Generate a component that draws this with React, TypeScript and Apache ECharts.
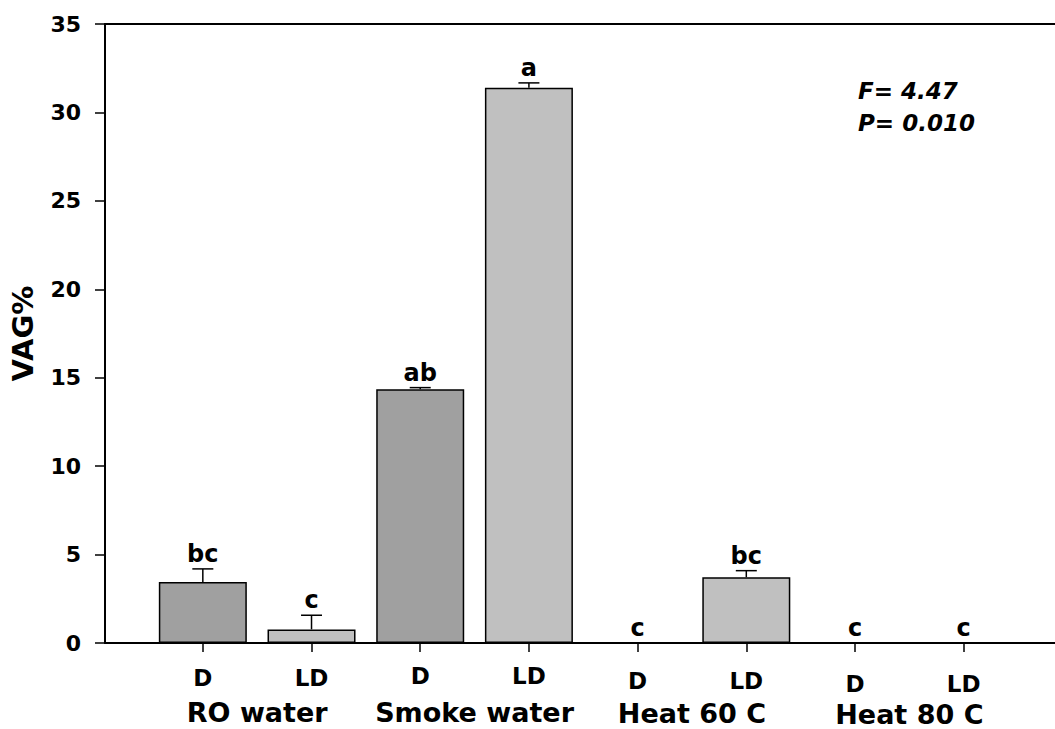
import React, { useEffect, useRef } from "react";
import * as echarts from "echarts";

const positions = [1, 2, 3, 4, 5, 6, 7, 8];
const subLabels = ["D", "LD", "D", "LD", "D", "LD", "D", "LD"];
const groupCenters = [1.5, 3.5, 5.5, 7.5];
const groupLabels = ["RO water", "Smoke water", "Heat 60 C", "Heat 80 C"];
const values = [3.45, 0.77, 14.35, 31.4, 0, 3.72, 0, 0];
const errors = [0.74, 0.8, 0.09, 0.27, 0, 0.37, 0, 0];
const letters = ["bc", "c", "ab", "a", "c", "bc", "c", "c"];
const yTicks = [0, 5, 10, 15, 20, 25, 30, 35];
const statLines = ["F= 4.47", "P= 0.010"];

const FONT = '"DejaVu Sans", Verdana, sans-serif';
const D_COLOR = "#a0a0a0";
const LD_COLOR = "#c0c0c0";

// small vertical drifts of the tick labels seen in the reference
const subOffsets = [2, 2, 0, 0, 5, 5, 8, 8];
const groupOffsets = [0, 0, 1, 2];

export default function App() {
  const ref = useRef<HTMLDivElement>(null);
  useEffect(() => {
    if (!ref.current) return;
    const chart = echarts.init(ref.current, null, { renderer: "svg" });
    const xMin = 0.1;
    const xMax = 8.84;
    const subRich: any = {};
    subOffsets.forEach((o, i) => {
      subRich["s" + i] = {
        padding: [o, 0, 0, 0],
        color: "#000",
        fontFamily: FONT,
        fontWeight: "bold",
        fontSize: 23,
      };
    });
    const groupRich: any = {};
    groupOffsets.forEach((o, i) => {
      groupRich["g" + i] = {
        padding: [o, 0, 0, 0],
        color: "#000",
        fontFamily: FONT,
        fontWeight: "bold",
        fontSize: 27,
      };
    });
    const option: any = {
      animation: false,
      backgroundColor: "#fff",
      grid: { left: 102, right: 0, top: 24, bottom: 86, containLabel: false },
      xAxis: [
        {
          type: "value",
          min: xMin,
          max: xMax,
          position: "bottom",
          axisLine: { show: true, onZero: false, lineStyle: { color: "#000", width: 2 } },
          axisTick: { show: true, customValues: positions, length: 9, lineStyle: { color: "#000", width: 1.5 } },
          axisLabel: {
            show: true,
            customValues: positions,
            margin: 21,
            formatter: (v: number) => {
              const i = positions.indexOf(Math.round(v));
              return i < 0 ? "" : `{s${i}|${subLabels[i]}}`;
            },
            rich: subRich,
          },
          splitLine: { show: false },
        },
        {
          type: "value",
          min: xMin,
          max: xMax,
          position: "bottom",
          axisLine: { show: false },
          axisTick: { show: false },
          axisLabel: {
            show: true,
            customValues: groupCenters,
            margin: 56,
            formatter: (v: number) => {
              const i = groupCenters.indexOf(v);
              return i < 0 ? "" : `{g${i}|${groupLabels[i]}}`;
            },
            rich: groupRich,
          },
          splitLine: { show: false },
        },
        {
          type: "value",
          min: xMin,
          max: xMax,
          position: "top",
          axisLine: { show: true, onZero: false, lineStyle: { color: "#000", width: 2 } },
          axisTick: { show: false },
          axisLabel: { show: false },
          splitLine: { show: false },
        },
      ],
      yAxis: {
        type: "value",
        min: 0,
        max: 35,
        interval: 5,
        name: "VAG%",
        nameLocation: "middle",
        nameGap: 68,
        nameTextStyle: { color: "#000", fontFamily: FONT, fontWeight: "bold", fontSize: 29 },
        axisLine: { show: true, lineStyle: { color: "#000", width: 2 } },
        axisTick: { show: true, length: 10, lineStyle: { color: "#000", width: 1.5 } },
        axisLabel: {
          margin: 24,
          color: "#000",
          fontFamily: FONT,
          fontWeight: "bold",
          fontSize: 22,
          formatter: (v: number) => (yTicks.includes(v) ? String(v) : ""),
        },
        splitLine: { show: false },
      },
      series: [
        {
          type: "bar",
          xAxisIndex: 0,
          barWidth: 88,
          data: positions.map((p, i) => ({
            value: [p, values[i]],
            itemStyle: {
              color: i % 2 === 0 ? D_COLOR : LD_COLOR,
              borderColor: "#000",
              borderWidth: values[i] > 0 ? 1.5 : 0,
            },
          })),
        },
        {
          type: "custom",
          xAxisIndex: 0,
          clip: false,
          z: 5,
          data: positions.map((p, i) => [p, values[i], errors[i]]),
          renderItem: (params: any, api: any) => {
            const i = params.dataIndex;
            const x = api.value(0);
            const v = api.value(1);
            const e = api.value(2);
            const base = api.coord([x, v]);
            const top = api.coord([x, v + e]);
            const children: any[] = [];
            if (e > 0) {
              children.push({
                type: "line",
                shape: { x1: base[0], y1: base[1], x2: top[0], y2: top[1] },
                style: { stroke: "#000", lineWidth: 1.5 },
              });
              children.push({
                type: "line",
                shape: { x1: top[0] - 10.5, y1: top[1], x2: top[0] + 10.5, y2: top[1] },
                style: { stroke: "#000", lineWidth: 1.5 },
              });
            }
            children.push({
              type: "text",
              style: {
                text: letters[i],
                x: top[0],
                y: top[1] - 3,
                align: "center",
                verticalAlign: "bottom",
                fill: "#000",
                fontFamily: FONT,
                fontWeight: "bold",
                fontSize: 24,
              },
            });
            return { type: "group", children };
          },
        },
      ],
      graphic: statLines.map((t, i) => ({
        type: "text",
        left: 858,
        top: 79 + i * 32,
        style: {
          text: t,
          fill: "#000",
          fontFamily: FONT,
          fontWeight: "bold",
          fontStyle: "italic",
          fontSize: 23,
        },
      })),
    };
    chart.setOption(option);
    return () => chart.dispose();
  }, []);
  return (
    <div
      ref={ref}
      style={{ position: "fixed", left: 0, top: 0, width: 1055, height: 729, background: "#fff" }}
    />
  );
}
